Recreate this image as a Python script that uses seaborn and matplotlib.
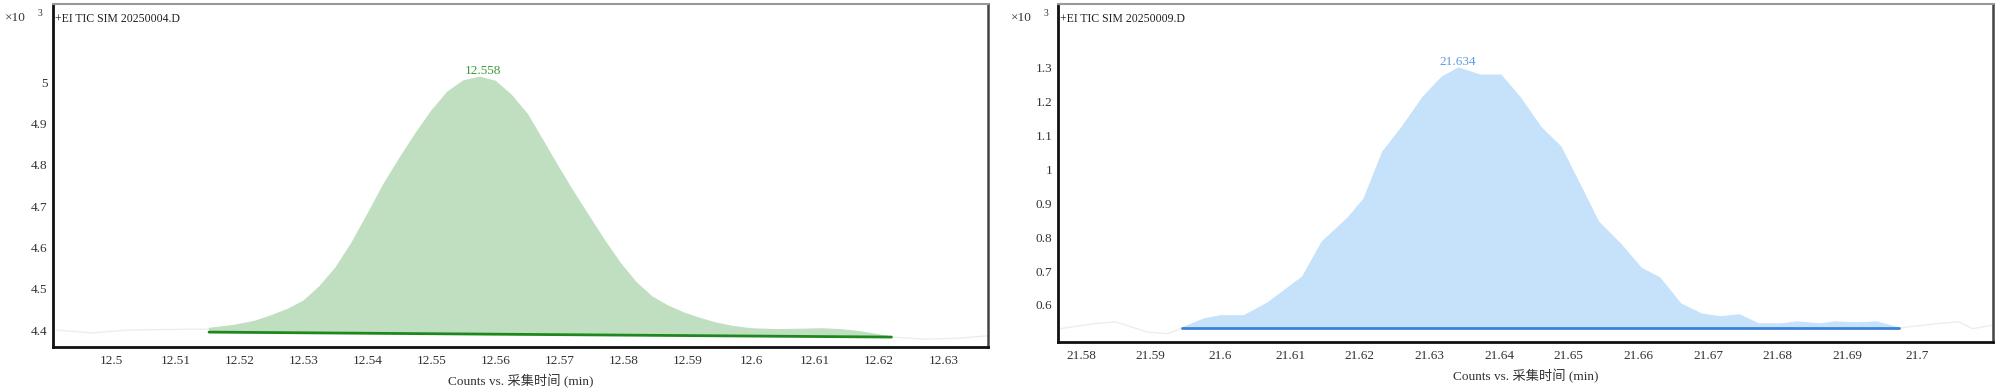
import numpy as np
import pandas as pd
import matplotlib
matplotlib.use("Agg")
import matplotlib.pyplot as plt
import seaborn as sns

# ---------------- data ----------------
# Left chromatogram (x10^3 counts)
left_time = [12.5152, 12.5190, 12.5223, 12.5250, 12.5275, 12.5300, 12.5325, 12.5350,
             12.5375, 12.5400, 12.5425, 12.5450, 12.5475, 12.5500, 12.5525, 12.5550,
             12.5575, 12.5600, 12.5625, 12.5650, 12.5680, 12.5700, 12.5720, 12.5745,
             12.5770, 12.5795, 12.5820, 12.5845, 12.5870, 12.5895, 12.5920, 12.5945,
             12.5970, 12.6000, 12.6040, 12.6080, 12.6110, 12.6140, 12.6165, 12.6190,
             12.6219]
left_counts = [4.404, 4.411, 4.421, 4.435, 4.450, 4.470, 4.505, 4.550,
               4.610, 4.680, 4.752, 4.815, 4.875, 4.930, 4.976, 5.003,
               5.012, 5.002, 4.968, 4.922, 4.843, 4.790, 4.739, 4.678,
               4.618, 4.562, 4.515, 4.480, 4.458, 4.441, 4.428, 4.417,
               4.409, 4.403, 4.401, 4.402, 4.403, 4.401, 4.397, 4.391,
               4.383]
left_base_time = [12.5152, 12.6219]
left_base_counts = [4.395, 4.383]
left_raw_pre_time = [12.4913, 12.4969, 12.5025, 12.5123, 12.5152]
left_raw_pre_counts = [4.400, 4.393, 4.400, 4.402, 4.402]
left_raw_post_time = [12.6219, 12.6270, 12.6320, 12.6370]
left_raw_post_counts = [4.383, 4.378, 4.380, 4.386]
left_peak_label = "12.558"
left_peak_time = 12.558
left_peak_counts = 5.012
left_title = "+EI TIC SIM 20250004.D"
left_xticks = [12.50, 12.51, 12.52, 12.53, 12.54, 12.55, 12.56, 12.57, 12.58,
               12.59, 12.60, 12.61, 12.62, 12.63]
left_xticklabels = ["12.5", "12.51", "12.52", "12.53", "12.54", "12.55", "12.56",
                    "12.57", "12.58", "12.59", "12.6", "12.61", "12.62", "12.63"]
left_yticks = [4.4, 4.5, 4.6, 4.7, 4.8, 4.9, 5.0]
left_yticklabels = ["4.4", "4.5", "4.6", "4.7", "4.8", "4.9", "5"]

# Right chromatogram (x10^3 counts)
right_time = [21.5945, 21.5977, 21.6000, 21.6034, 21.6068, 21.6118, 21.6146, 21.6183,
              21.6206, 21.6233, 21.6261, 21.6291, 21.6318, 21.6342, 21.6373, 21.6403,
              21.6430, 21.6461, 21.6489, 21.6520, 21.6543, 21.6576, 21.6604, 21.6631,
              21.6661, 21.6691, 21.6718, 21.6745, 21.6773, 21.6805, 21.6828, 21.6860,
              21.6883, 21.6915, 21.6942, 21.6974]
right_counts = [0.532, 0.559, 0.568, 0.568, 0.606, 0.683, 0.786, 0.857,
                0.913, 1.052, 1.126, 1.214, 1.273, 1.300, 1.279, 1.279,
                1.214, 1.123, 1.067, 0.940, 0.845, 0.777, 0.709, 0.680,
                0.603, 0.573, 0.565, 0.571, 0.544, 0.544, 0.550, 0.544,
                0.550, 0.547, 0.550, 0.532]
right_base_time = [21.5945, 21.6974]
right_base_counts = [0.532, 0.532]
right_raw_pre_time = [21.5770, 21.5820, 21.5850, 21.5895, 21.5925, 21.5945]
right_raw_pre_counts = [0.530, 0.545, 0.550, 0.520, 0.515, 0.532]
right_raw_post_time = [21.6974, 21.7030, 21.7060, 21.7080, 21.7108]
right_raw_post_counts = [0.532, 0.545, 0.550, 0.530, 0.540]
right_peak_label = "21.634"
right_peak_time = 21.634
right_peak_counts = 1.300
right_title = "+EI TIC SIM 20250009.D"
right_xticks = [21.58, 21.59, 21.60, 21.61, 21.62, 21.63, 21.64, 21.65, 21.66,
                21.67, 21.68, 21.69, 21.70]
right_xticklabels = ["21.58", "21.59", "21.6", "21.61", "21.62", "21.63", "21.64",
                     "21.65", "21.66", "21.67", "21.68", "21.69", "21.7"]
right_yticks = [0.6, 0.7, 0.8, 0.9, 1.0, 1.1, 1.2, 1.3]
right_yticklabels = ["0.6", "0.7", "0.8", "0.9", "1", "1.1", "1.2", "1.3"]

xlabel_text = "Counts vs. 采集时间 (min)"

# ---------------- style ----------------
sns.set_style("white")
plt.rcParams["font.family"] = ["Liberation Serif", "Noto Sans CJK SC", "DejaVu Sans"]

fig = plt.figure(figsize=(20, 3.89), dpi=100)
ax_l = fig.add_axes([0.0265, 0.108, 0.4675, 0.8817])
ax_r = fig.add_axes([0.529, 0.1208, 0.4675, 0.8689])


def draw_panel(ax, t, c, bt, bc, pre_t, pre_c, post_t, post_c, fill_col, line_col,
               label_col, peak_lab, pk_t, pk_c, title, xt, xtl, yt, ytl, xlim, ylim,
               fig_x_ax):
    # faint raw trace outside the integrated region
    sns.lineplot(x=pre_t, y=pre_c, ax=ax, color="#ededed", lw=1.0, sort=False,
                 estimator=None)
    sns.lineplot(x=post_t, y=post_c, ax=ax, color="#ededed", lw=1.0, sort=False,
                 estimator=None)
    # integrated peak area
    poly_x = np.concatenate([np.asarray(t), np.asarray(bt)[::-1]])
    poly_y = np.concatenate([np.asarray(c), np.asarray(bc)[::-1]])
    ax.fill(poly_x, poly_y, color=fill_col, lw=0, zorder=2)
    sns.lineplot(x=t, y=c, ax=ax, color=fill_col, lw=0.8, sort=False,
                 estimator=None, zorder=2)
    # baseline
    sns.lineplot(x=bt, y=bc, ax=ax, color=line_col, lw=2.0, sort=False,
                 estimator=None, zorder=3)
    ax.text(pk_t, pk_c, peak_lab, color=label_col, fontsize=9.5, ha="center",
            va="bottom")
    ax.text(0.002, 0.955, title, transform=ax.transAxes, fontsize=8.5,
            ha="left", va="center", color="#222222")

    ax.set_xlim(*xlim)
    ax.set_ylim(*ylim)
    ax.set_xticks(xt)
    ax.set_xticklabels(xtl)
    ax.set_yticks(yt)
    ax.set_yticklabels(ytl)
    ax.tick_params(axis="both", length=0, labelsize=9.5, colors="#333333")
    ax.tick_params(axis="x", pad=6)
    ax.tick_params(axis="y", pad=4)
    ax.set_xlabel(xlabel_text, fontsize=9.5, color="#333333", labelpad=5)
    ax.set_ylabel("")
    ax.grid(False)
    for side in ["left", "bottom"]:
        ax.spines[side].set_color("#111111")
        ax.spines[side].set_linewidth(2.0)
    ax.spines["right"].set_color("#444444")
    ax.spines["right"].set_linewidth(1.8)
    ax.spines["top"].set_color("#999999")
    ax.spines["top"].set_linewidth(1.5)

    # ×10^3 multiplier
    fig.text(fig_x_ax, 1 - 18 / 389, "×10", fontsize=9.5, ha="left", va="center",
             color="#333333")
    fig.text(fig_x_ax + 33 / 2000, 1 - 14 / 389, "3", fontsize=7, ha="left",
             va="center", color="#333333")


draw_panel(ax_l, left_time, left_counts, left_base_time, left_base_counts,
           left_raw_pre_time, left_raw_pre_counts, left_raw_post_time,
           left_raw_post_counts, "#c0dfc0", "#1e881e", "#3c9a3c",
           left_peak_label, left_peak_time, left_peak_counts, left_title,
           left_xticks, left_xticklabels, left_yticks, left_yticklabels,
           (12.4908, 12.6370), (4.359, 5.189), 5 / 2000)

draw_panel(ax_r, right_time, right_counts, right_base_time, right_base_counts,
           right_raw_pre_time, right_raw_pre_counts, right_raw_post_time,
           right_raw_post_counts, "#c6e1fa", "#3b83d9", "#5a9ee0",
           right_peak_label, right_peak_time, right_peak_counts, right_title,
           right_xticks, right_xticklabels, right_yticks, right_yticklabels,
           (21.5767, 21.7109), (0.4905, 1.489), 1011 / 2000)

fig.savefig("out.png", dpi=100)
